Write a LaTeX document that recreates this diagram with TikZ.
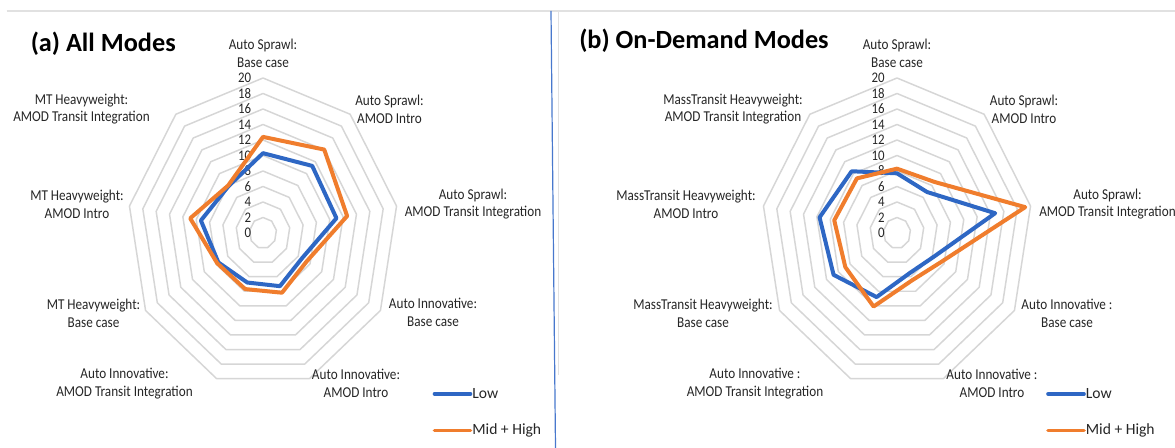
\documentclass[tikz,border=0pt]{standalone}
\usepackage{fontspec}
\setmainfont{Carlito}
\newfontfamily\lblfont[FakeStretch=0.875]{Carlito}
\definecolor{lowblue}{RGB}{46,103,196}
\definecolor{midorange}{RGB}{240,125,45}
\definecolor{gridgray}{RGB}{214,214,214}
\definecolor{framegray}{RGB}{225,225,225}
\definecolor{divblue}{RGB}{72,120,205}
\definecolor{txtgray}{RGB}{38,38,38}
\begin{document}
\begin{tikzpicture}[x=0.75pt,y=-0.75pt,
  axlbl/.style={font=\lblfont\fontsize{11.3}{13.3}\selectfont, align=center, inner sep=0pt, text=txtgray},
  ticklbl/.style={font=\lblfont\fontsize{11}{12}\selectfont, anchor=east, inner sep=0pt, text=txtgray},
  ring/.style={draw=gridgray, line width=1.1pt, line join=round},
  lowline/.style={draw=lowblue, line width=3pt, line join=round},
  midline/.style={draw=midorange, line width=3pt, line join=round},
  lowkey/.style={draw=lowblue, line width=2.7pt, line cap=round},
  midkey/.style={draw=midorange, line width=2.7pt, line cap=round},
  legtext/.style={font=\fontsize{11.7}{13}\selectfont, anchor=west, inner sep=1.2pt, text=txtgray},
  paneltitle/.style={font=\bfseries\fontsize{19.7}{23}\selectfont, anchor=base west, inner sep=0pt}
]
\useasboundingbox (0,0) rectangle (1175,448);
\fill[white] (0,0) rectangle (1175,448);

% frame lines
\coordinate (topL) at (6.7,11);
\coordinate (topR) at (1175,11);
\coordinate (divT) at (551,11);
\coordinate (divB) at (555.5,448);
\coordinate (sepT) at (558.3,11);
\coordinate (sepB) at (558.3,375);
\draw[framegray, line width=1.2pt] (topL) -- (topR);
\draw[framegray, line width=0.9pt] (sepT) -- (sepB);
\draw[divblue, line width=0.9pt] (divT) -- (divB);

% ---------- (a) All Modes ----------
\begin{scope}[shift={(263,233)}, xscale=6.78, yscale=-7.75]
  \foreach \v in {2,4,...,20}
    \draw[ring] (90:\v) \foreach \k in {1,...,8}{ -- ({90-40*\k}:\v)} -- cycle;
\end{scope}
\foreach \v in {0,2,...,20}
  \node[ticklbl] (ta\v) at (251.5,{233-7.75*\v}) {\v};
\begin{scope}[shift={(263,233)}, xscale=6.78, yscale=-7.75]
  \draw[lowline] (90:10.3) -- (50:11.3) -- (10:11.0) -- (-30:6.6) -- (-70:7.3)
     -- (-110:6.8) -- (-150:7.6) -- (170:9.3) -- (130:7.9) -- cycle;
  \draw[midline] (90:12.4) -- (50:14.05) -- (10:12.6) -- (-30:7.4) -- (-70:8.2)
     -- (-110:7.7) -- (-150:7.8) -- (170:10.9) -- (130:8.0) -- cycle;
\end{scope}

\node[axlbl] (a0) at (263,53.5) {Auto Sprawl:\\Base case};
\node[axlbl] (a1) at (389.5,109) {Auto Sprawl:\\AMOD Intro};
\node[axlbl] (a2) at (473,204) {Auto Sprawl:\\AMOD Transit Integration};
\node[axlbl] (a3) at (433,312.5) {Auto Innovative:\\Base case};
\node[axlbl] (a4) at (356,383) {Auto Innovative:\\AMOD Intro};
\node[axlbl] (a5) at (124.5,383.5) {Auto Innovative:\\AMOD Transit Integration};
\node[axlbl] (a6) at (93.5,313) {MT Heavyweight:\\Base case};
\node[axlbl] (a7) at (77,204) {MT Heavyweight:\\AMOD Intro};
\node[axlbl] (a8) at (81.5,109) {MT Heavyweight:\\AMOD Transit Integration};

\node[paneltitle] (ttla) at (30.5,51.7) {(a) All Modes};

\node[legtext] (lowa) at (470.5,394) {Low};
\node[legtext] (mida) at (470.5,430.5) {Mid + High};
\coordinate (lowaS) at (434.5,394);
\coordinate (midaS) at (434.5,430.5);
\draw[lowkey] (lowaS) -- (lowa.west);
\draw[midkey] (midaS) -- (mida.west);

% ---------- (b) On-Demand Modes ----------
\begin{scope}[shift={(897,233)}, xscale=6.78, yscale=-7.75]
  \foreach \v in {2,4,...,20}
    \draw[ring] (90:\v) \foreach \k in {1,...,8}{ -- ({90-40*\k}:\v)} -- cycle;
\end{scope}
\foreach \v in {0,2,...,20}
  \node[ticklbl] (tb\v) at (885,{233-7.75*\v}) {\v};
\begin{scope}[shift={(897,233)}, xscale=6.78, yscale=-7.75]
  \draw[lowline] (90:7.7) -- (50:6.9) -- (10:14.7) -- (-30:6.2) -- (-70:5.5)
     -- (-110:8.8) -- (-150:10.8) -- (170:11.6) -- (130:10.4) -- cycle;
  \draw[midline] (90:8.3) -- (50:8.6) -- (10:19.2) -- (-30:7.5) -- (-70:6.5)
     -- (-110:10.1) -- (-150:8.8) -- (170:9.4) -- (130:9.2) -- cycle;
\end{scope}

\node[axlbl] (b0) at (897,53.5) {Auto Sprawl:\\Base case};
\node[axlbl] (b1) at (1024,109) {Auto Sprawl:\\AMOD Intro};
\node[axlbl] (b2) at (1107.5,204) {Auto Sprawl:\\AMOD Transit Integration};
\node[axlbl] (b3) at (1067,313) {Auto Innovative :\\Base case};
\node[axlbl] (b4) at (992,383) {Auto Innovative :\\AMOD Intro};
\node[axlbl] (b5) at (755,383.5) {Auto Innovative :\\AMOD Transit Integration};
\node[axlbl] (b6) at (703,313) {MassTransit Heavyweight:\\Base case};
\node[axlbl] (b7) at (686,204) {MassTransit Heavyweight:\\AMOD Intro};
\node[axlbl] (b8) at (733,109) {MassTransit Heavyweight:\\AMOD Transit Integration};

\node[paneltitle] (ttlb) at (579,48.5) {(b) On-Demand Modes};

\node[legtext] (lowb) at (1084,394) {Low};
\node[legtext] (midb) at (1084,430.5) {Mid + High};
\coordinate (lowbS) at (1048,394);
\coordinate (midbS) at (1048,430.5);
\draw[lowkey] (lowbS) -- (lowb.west);
\draw[midkey] (midbS) -- (midb.west);
\end{tikzpicture}
\end{document}
